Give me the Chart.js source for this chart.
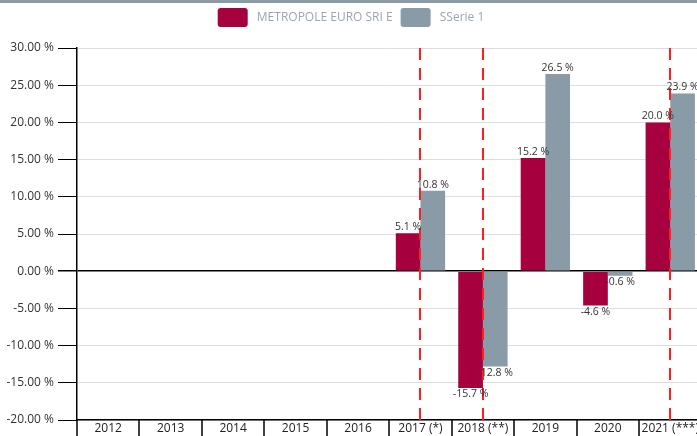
<!DOCTYPE html>
<html>
<head>
<meta charset="utf-8">
<script src="https://cdn.jsdelivr.net/npm/chart.js@4"></script>
<style>
  html, body { margin: 0; padding: 0; background: #fff; overflow: hidden; }
  #wrap { position: relative; width: 702px; height: 436px; }
</style>
</head>
<body>
<div id="wrap"><canvas id="chart"></canvas></div>
<script>
// Categories and values
const years = ['2012', '2013', '2014', '2015', '2016', '2017 (*)', '2018 (**)', '2019', '2020', '2021 (***)'];
const fundValues = [null, null, null, null, null, 5.1, -15.7, 15.2, -4.6, 20.0];
const serieValues = [null, null, null, null, null, 10.8, -12.8, 26.5, -0.6, 23.9];
const markedYears = ['2017 (*)', '2018 (**)', '2021 (***)'];

const fontFamily = "'Open Sans', 'Noto Sans', sans-serif";

// Top band of the page + a bit more room under the legend
const topBand = {
  id: 'topBand',
  afterInit(chart) {
    const legend = chart.legend;
    const fit = legend.fit;
    legend.fit = function () {
      fit.call(this);
      this.height += 11;
    };
  },
  beforeDraw(chart) {
    const ctx = chart.ctx;
    ctx.save();
    ctx.fillStyle = '#8a9ba8';
    ctx.fillRect(0, 0, chart.width, 3);
    ctx.restore();
  }
};

// Category separators under the x axis
const xSeparators = {
  id: 'xSeparators',
  afterDraw(chart) {
    const ctx = chart.ctx;
    const x = chart.scales.x;
    const bottom = chart.chartArea.bottom;
    ctx.save();
    ctx.strokeStyle = '#000';
    ctx.lineWidth = 1.5;
    for (let i = 0; i <= years.length; i++) {
      const px = Math.round(x.getPixelForValue(i - 0.5));
      ctx.beginPath();
      ctx.moveTo(px, bottom);
      ctx.lineTo(px, chart.height);
      ctx.stroke();
    }
    ctx.restore();
  }
};

// Red dashed markers through the marked years
const dashedMarkers = {
  id: 'dashedMarkers',
  afterDatasetsDraw(chart) {
    const ctx = chart.ctx;
    const x = chart.scales.x;
    ctx.save();
    ctx.strokeStyle = '#ff1f1f';
    ctx.lineWidth = 2;
    ctx.setLineDash([12, 8]);
    markedYears.forEach(y => {
      const px = Math.round(x.getPixelForValue(years.indexOf(y)));
      ctx.beginPath();
      ctx.moveTo(px, chart.chartArea.top);
      ctx.lineTo(px, chart.chartArea.bottom);
      ctx.stroke();
    });
    ctx.restore();
  }
};

// Value labels on top / under each bar
const valueLabels = {
  id: 'valueLabels',
  afterDraw(chart) {
    const ctx = chart.ctx;
    ctx.save();
    ctx.font = '10.5px ' + fontFamily;
    ctx.fillStyle = '#333';
    ctx.textAlign = 'center';
    chart.data.datasets.forEach((ds, i) => {
      const meta = chart.getDatasetMeta(i);
      meta.data.forEach((bar, j) => {
        const v = ds.data[j];
        if (v === null) return;
        const txt = v.toFixed(1) + ' %';
        if (v >= 0) {
          ctx.textBaseline = 'bottom';
          ctx.fillText(txt, bar.x, bar.y - 1);
        } else {
          ctx.textBaseline = 'top';
          ctx.fillText(txt, bar.x, bar.y + 1);
        }
      });
    });
    ctx.restore();
  }
};

new Chart(document.getElementById('chart'), {
  type: 'bar',
  data: {
    labels: years,
    datasets: [
      { label: 'METROPOLE EURO SRI E', data: fundValues, backgroundColor: '#a6003f' },
      { label: 'SSerie 1', data: serieValues, backgroundColor: '#8a9ba8' }
    ]
  },
  options: {
    responsive: true,
    maintainAspectRatio: false,
    animation: false,
    categoryPercentage: 0.79,
    barPercentage: 1,
    layout: { padding: { top: 0, right: 0, left: 0, bottom: 0 } },
    plugins: {
      tooltip: { enabled: false },
      legend: {
        position: 'top',
        labels: {
          boxWidth: 30,
          boxHeight: 19,
          padding: 8,
          color: '#9aa6b2',
          font: { family: fontFamily, size: 12 },
          useBorderRadius: true,
          borderRadius: 3,
          generateLabels(chart) {
            const items = Chart.defaults.plugins.legend.labels.generateLabels(chart);
            items.forEach(it => { it.text = ' ' + it.text; });
            return items;
          }
        }
      }
    },
    scales: {
      x: {
        afterFit(scale) { scale.height = 16; },
        grid: { display: false, drawTicks: false },
        border: { color: '#000', width: 1.5 },
        ticks: {
          padding: 3,
          color: '#222',
          font: { family: fontFamily, size: 12, lineHeight: 1 },
          maxRotation: 0,
          autoSkip: false
        }
      },
      y: {
        min: -20,
        max: 30,
        afterFit(scale) { scale.width = 77; },
        grid: {
          color: ctx => ctx.tick && ctx.tick.value === 0 ? '#000' : '#dedede',
          lineWidth: ctx => ctx.tick && ctx.tick.value === 0 ? 1.5 : 1,
          tickColor: '#000',
          tickLength: 19
        },
        border: { color: '#000', width: 1.5 },
        ticks: {
          stepSize: 5,
          padding: 4,
          color: '#333',
          font: { family: fontFamily, size: 12 },
          callback: v => v.toFixed(2) + ' %'
        }
      }
    }
  },
  plugins: [topBand, xSeparators, dashedMarkers, valueLabels]
});
</script>
</body>
</html>
